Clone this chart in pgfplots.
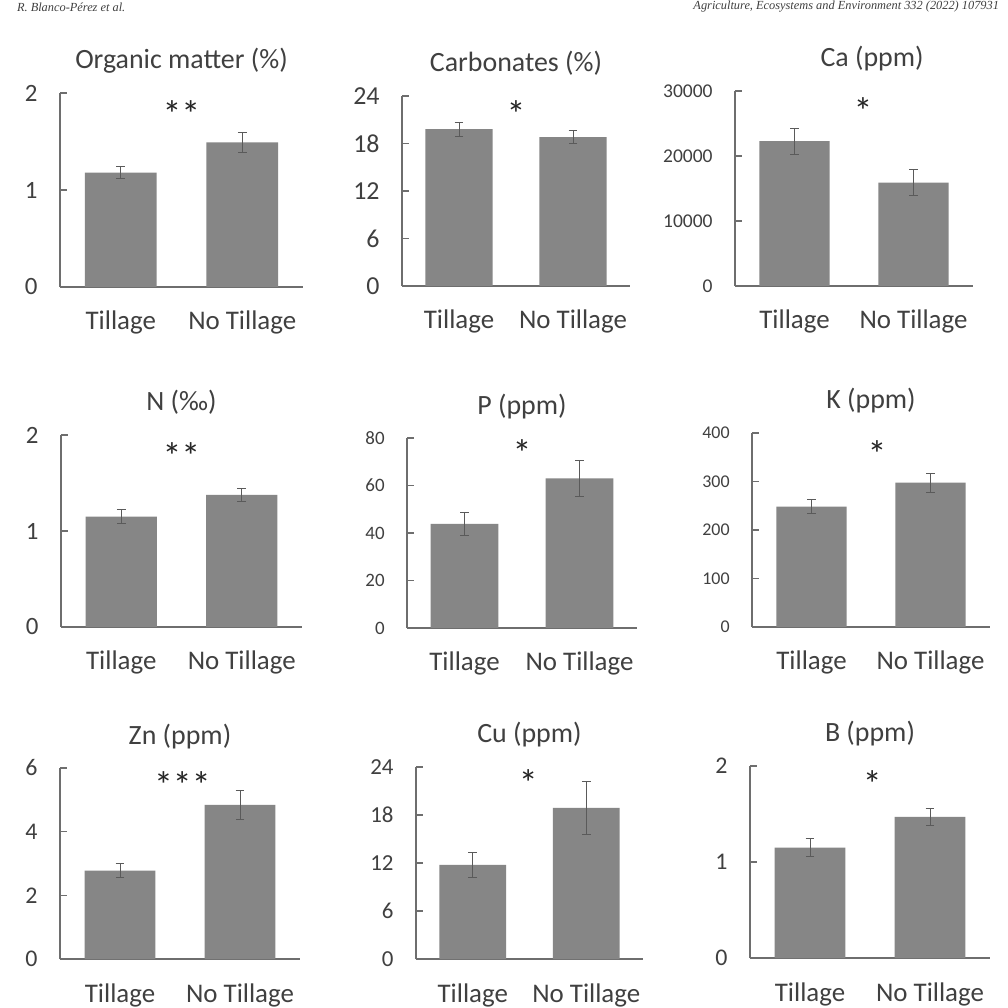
\documentclass[border=0pt]{standalone}
\usepackage{fontspec}
\setmainfont{Carlito}
\newfontfamily\hdr{Liberation Serif}
\usepackage{pgfplots}
\pgfplotsset{compat=1.18}
\definecolor{barc}{HTML}{868686}
\definecolor{axc}{HTML}{6E6E6E}
\definecolor{txt}{HTML}{404040}
\definecolor{errc}{HTML}{5A5A5A}
\pgfplotsset{
  panel/.style={
    scale only axis, anchor=south west,
    axis lines*=left,
    axis line style={draw=axc, line width=0.75bp},
    ybar, bar width=0.59,
    xmin=-0.5, xmax=1.5, ymin=0, enlargelimits=false,
    xtick={0,1}, xticklabels={Tillage,No Tillage},
    xtick style={draw=none},
    ytick style={draw=axc, line width=0.75bp},
    tick align=inside, major tick length=3.5bp,
    xticklabel style={anchor=base, yshift=-21.5bp, inner sep=0pt,
      font=\fontsize{13.5}{15}\selectfont, text=txt},
    yticklabel style={anchor=east, inner sep=0pt, xshift=-11bp,
      font=\fontsize{#1}{#1}\selectfont, text=txt},
    /pgf/number format/assume math mode=true,
    /pgf/number format/1000 sep={},
    scaled y ticks=false,
    title style={anchor=base, at={(0.5,1)}, yshift=12bp-6pt,
      font=\fontsize{14}{16}\selectfont, text=txt},
    clip=false,
  },
  bars/.style={fill=barc, draw=none,
    error bars/.cd, y dir=both, y explicit,
    error bar style={errc, line width=0.5bp},
    error mark options={errc, line width=0.5bp, mark size=2.2bp, rotate=90}},
}
\tikzset{stars/.style={font=\fontsize{19}{19}\selectfont, text=black!85, anchor=center, yshift=-4bp}}
\begin{document}
\begin{tikzpicture}
\useasboundingbox[fill=white] (0,0) rectangle (504bp,504bp);
\node[anchor=west, font=\hdr\itshape\fontsize{6.2}{7}\selectfont, text=black!75] at (5bp,500.5bp) {R. Blanco-Pérez et al.};
\node[anchor=east, font=\hdr\itshape\fontsize{6.2}{7}\selectfont, text=black!75] at (503bp,500.5bp) {Agriculture, Ecosystems and Environment 332 (2022) 107931};

% Row 1
\begin{axis}[panel=12.5, at={(30bp,360.5bp)}, width=121.5bp, height=97bp,
  ymax=2, ytick={0,1,2}, title={Organic matter (\%)}]
\addplot[bars] coordinates {(0,1.18) +- (0,0.06) (1,1.49) +- (0,0.10)};
\node[stars] at (axis cs:0.5,1.87) {**};
\end{axis}

\begin{axis}[panel=13, at={(201bp,361bp)}, width=114bp, height=95bp,
  ymax=24, ytick={0,6,12,18,24}, title={Carbonates (\%)}]
\addplot[bars] coordinates {(0,19.8) +- (0,0.9) (1,18.8) +- (0,0.8)};
\node[stars] at (axis cs:0.5,22.7) {*};
\end{axis}

\begin{axis}[panel=9.8, at={(367.5bp,361bp)}, width=119bp, height=97.5bp,
  ymax=30000, ytick={0,10000,20000,30000}, title={Ca (ppm)},
  title style={at={(0.576,1)}}]
\addplot[bars] coordinates {(0,22300) +- (0,2000) (1,15900) +- (0,2050)};
\node[stars] at (axis cs:0.575,28150) {*};
\end{axis}

% Row 2
\begin{axis}[panel=12.5, at={(30.5bp,190.5bp)}, width=120.5bp, height=96bp,
  ymax=2, ytick={0,1,2}, title={N (‰)}]
\addplot[bars] coordinates {(0,1.15) +- (0,0.07) (1,1.375) +- (0,0.07)};
\node[stars] at (axis cs:0.5,1.86) {**};
\end{axis}

\begin{axis}[panel=9.5, at={(203.5bp,190bp)}, width=115bp, height=95bp,
  ymax=80, ytick={0,20,40,60,80}, title={P (ppm)}]
\addplot[bars] coordinates {(0,43.8) +- (0,4.7) (1,63) +- (0,7.7)};
\node[stars] at (axis cs:0.5,77) {*};
\end{axis}

\begin{axis}[panel=9, at={(376bp,190.5bp)}, width=119bp, height=97bp,
  ymax=400, ytick={0,100,200,300,400}, title={K (ppm)}]
\addplot[bars] coordinates {(0,248) +- (0,15) (1,297.5) +- (0,20)};
\node[stars] at (axis cs:0.55,373) {*};
\end{axis}

% Row 3
\begin{axis}[panel=12, at={(30bp,24.5bp)}, width=120bp, height=95.5bp,
  ymax=6, ytick={0,2,4,6}, title={Zn (ppm)}]
\addplot[bars] coordinates {(0,2.78) +- (0,0.21) (1,4.84) +- (0,0.46)};
\node[stars] at (axis cs:0.52,5.72) {***};
\end{axis}

\begin{axis}[panel=11.5, at={(208bp,24.5bp)}, width=113.5bp, height=96bp,
  ymax=24, ytick={0,6,12,18,24}, title={Cu (ppm)}]
\addplot[bars] coordinates {(0,11.75) +- (0,1.55) (1,18.9) +- (0,3.3)};
\node[stars] at (axis cs:0.49,23) {*};
\end{axis}

\begin{axis}[panel=12, at={(375bp,25bp)}, width=120bp, height=96bp,
  ymax=2, ytick={0,1,2}, title={B (ppm)}]
\addplot[bars] coordinates {(0,1.15) +- (0,0.095) (1,1.47) +- (0,0.085)};
\node[stars] at (axis cs:0.52,1.9) {*};
\end{axis}
\end{tikzpicture}
\end{document}
